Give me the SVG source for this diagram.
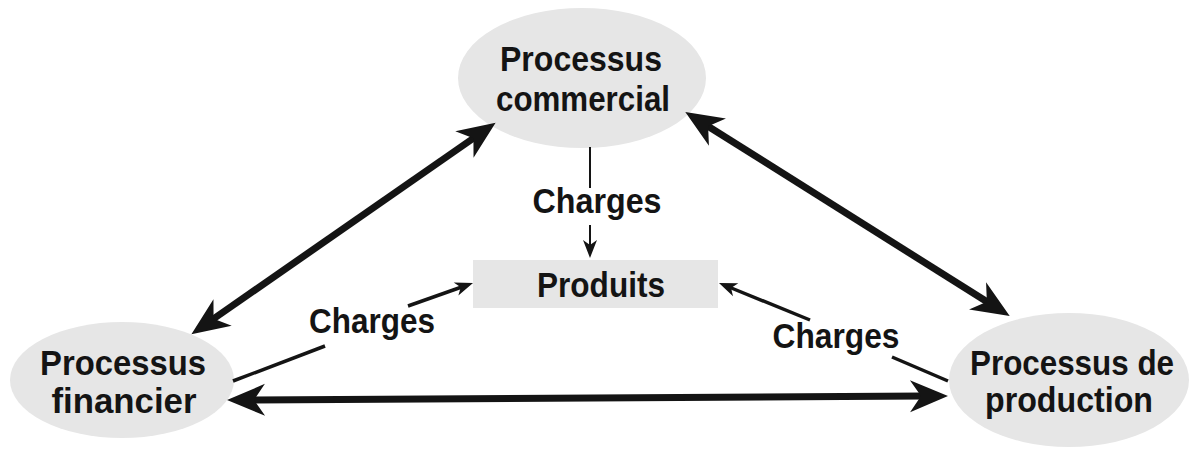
<svg xmlns="http://www.w3.org/2000/svg" width="1190" height="450" viewBox="0 0 1190 450">
  <style>
    .node { fill: #e6e6e6; stroke: none; }
    .label { font-family: "Liberation Sans", Arial, sans-serif; font-weight: bold; font-size: 35px; fill: #141414; text-anchor: middle; }
    .thick { stroke: #141414; stroke-width: 7; fill: none; }
    .thin { stroke: #141414; stroke-width: 3.5; fill: none; }
    .hair { stroke: #141414; stroke-width: 2; fill: none; }
  </style>
  <defs>
    <marker id="bigHead" markerUnits="userSpaceOnUse" markerWidth="42" markerHeight="36" refX="14" refY="0" orient="auto-start-reverse" overflow="visible">
      <path d="M38,0 L0,-16 L11,0 L0,16 Z" fill="#141414"/>
    </marker>
    <marker id="smallHead" markerUnits="userSpaceOnUse" markerWidth="20" markerHeight="16" refX="6" refY="0" orient="auto" overflow="visible">
      <path d="M18,0 L0,-7 L5,0 L0,7 Z" fill="#141414"/>
    </marker>
  </defs>

  <rect width="1190" height="450" fill="#ffffff"/>

  <g id="processus-commercial">
    <ellipse class="node" cx="582" cy="78" rx="124" ry="70"/>
    <text class="label" x="581" y="71" textLength="162" lengthAdjust="spacingAndGlyphs">Processus</text>
    <text class="label" x="583" y="111" textLength="174" lengthAdjust="spacingAndGlyphs">commercial</text>
  </g>

  <g id="produits">
    <rect class="node" x="473" y="260" width="245" height="48"/>
    <text class="label" x="601" y="297" textLength="128" lengthAdjust="spacingAndGlyphs">Produits</text>
  </g>

  <g id="processus-financier">
    <ellipse class="node" cx="122" cy="380" rx="112" ry="58"/>
    <text class="label" x="123" y="375" textLength="166" lengthAdjust="spacingAndGlyphs">Processus</text>
    <text class="label" x="124" y="413" textLength="145" lengthAdjust="spacingAndGlyphs">financier</text>
  </g>

  <g id="processus-production">
    <ellipse class="node" cx="1069" cy="380" rx="120" ry="67"/>
    <text class="label" x="1072" y="375" textLength="204" lengthAdjust="spacingAndGlyphs">Processus de</text>
    <text class="label" x="1069" y="412" textLength="168" lengthAdjust="spacingAndGlyphs">production</text>
  </g>

  <g id="connectors">
    <!-- two-way flows between the three processes -->
    <line class="thick" x1="211.1" y1="320.5" x2="475.9" y2="136.5" marker-start="url(#bigHead)" marker-end="url(#bigHead)"/>
    <line class="thick" x1="705.6" y1="124.7" x2="989.4" y2="303.3" marker-start="url(#bigHead)" marker-end="url(#bigHead)"/>
    <line class="thick" x1="251" y1="399.9" x2="924" y2="396.1" marker-start="url(#bigHead)" marker-end="url(#bigHead)"/>

    <!-- charges from commercial -->
    <line class="hair" x1="590" y1="147" x2="590" y2="188"/>
    <line class="hair" x1="590" y1="225" x2="590" y2="246" marker-end="url(#smallHead)"/>
    <text class="label" x="597" y="213" textLength="129" lengthAdjust="spacingAndGlyphs">Charges</text>

    <!-- charges from financier -->
    <line class="thin" x1="233" y1="381" x2="325" y2="346"/>
    <line class="thin" x1="408" y1="306" x2="461.7" y2="287" marker-end="url(#smallHead)"/>
    <text class="label" x="372" y="333" textLength="126" lengthAdjust="spacingAndGlyphs">Charges</text>

    <!-- charges from production -->
    <line class="thin" x1="948" y1="381" x2="892" y2="357"/>
    <line class="thin" x1="810" y1="320" x2="730.1" y2="287.5" marker-end="url(#smallHead)"/>
    <text class="label" x="836" y="348" textLength="127" lengthAdjust="spacingAndGlyphs">Charges</text>
  </g>
</svg>
